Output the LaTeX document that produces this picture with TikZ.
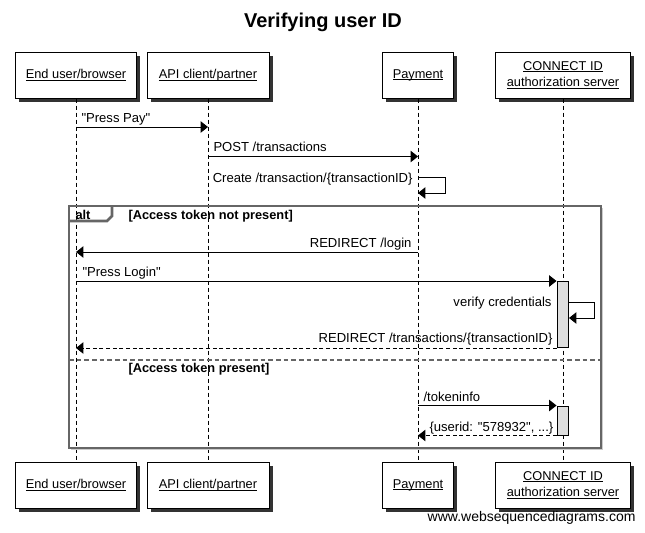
\documentclass[tikz,border=0pt]{standalone}
\usepackage{fontspec}
\setmainfont{Liberation Sans}
\usetikzlibrary{arrows.meta}
\tikzset{every picture/.style={line width=0.75pt}}
\newcommand{\wsdul}[1]{\sbox0{#1}\rlap{\rule[-1.7pt]{\wd0}{0.75pt}}\usebox0}
\newcommand{\dq}{\textquotedbl}
\tikzset{
  actor/.style={draw, fill=white, minimum width=#1*0.75pt, minimum height=34.5pt, inner sep=1pt, align=center,
    font=\fontsize{9.6}{12.5}\selectfont},
  boxshadow/.style={fill=black!80},
  lifeline/.style={dash pattern=on 3pt off 2.25pt},
  msg/.style={-{Triangle[length=5.5pt,width=8.5pt]}},
  reply/.style={msg, dash pattern=on 3pt off 2pt},
  lbl/.style={inner sep=0pt, font=\fontsize{9.8}{12}\selectfont},
  guard/.style={lbl, font=\fontsize{9.6}{12}\selectfont\bfseries},
  actbox/.style={draw, fill=black!13, minimum width=8.6pt, minimum height=#1*0.75pt, inner sep=0pt},
  altframe/.style={draw=black!60, line width=2pt},
}

\begin{document}
\begin{tikzpicture}[x=0.75pt,y=0.75pt,yscale=-1,xscale=1]
\useasboundingbox (0,0) rectangle (645,532);

% Title
\node[font=\fontsize{15}{18}\selectfont\bfseries] (title) at (323,22) {Verifying user ID};

%Shape: box shadows
\foreach \cx/\cy/\bw in {76/75/121.5, 208/75/122, 418/75/70.5, 563/75/134.5,
                        76/485/121.5, 208/485/122, 418/485/70.5, 563/485/134.5}
  \fill[boxshadow] (\cx-\bw/2+3.5,\cy-23+3.5) rectangle (\cx+\bw/2+3.5,\cy+23+3.5);

%Shape: participants (top)
\node[actor=121.5] (usrT) at (76,75) {\wsdul{End user/browser}};
\node[actor=122] (apiT) at (208,75) {\wsdul{API client/partner}};
\node[actor=70.5] (payT) at (418,75) {\wsdul{Payment}};
\node[actor=134.5] (cidT) at (563,75) {\wsdul{CONNECT ID}\\\wsdul{authorization server}};
%Shape: participants (bottom)
\node[actor=121.5] (usrB) at (76,485) {\wsdul{End user/browser}};
\node[actor=122] (apiB) at (208,485) {\wsdul{API client/partner}};
\node[actor=70.5] (payB) at (418,485) {\wsdul{Payment}};
\node[actor=134.5] (cidB) at (563,485) {\wsdul{CONNECT ID}\\\wsdul{authorization server}};

%Straight Lines: lifelines
\draw[lifeline] (usrT) -- (usrB);
\draw[lifeline] (apiT) -- (apiB);
\draw[lifeline] (payT) -- (payB);
\draw[lifeline] (cidT) -- (cidB);

%Shape: alt frame
\draw[black!20, line width=1pt] (602.5,208) -- (602.5,449.5) -- (71,449.5);
\draw[altframe] (69,206) rectangle (601,448);
\draw[altframe] (69,221) -- (107,221) -- (112,216) -- (112,206);
\draw[altframe, line width=1.5pt, dash pattern=on 3.5pt off 2.25pt] (69,360) -- (601,360);

%Shape: activations
\node[actbox=66] (act1) at (562.75,314.5) {};
\node[actbox=29] (act2) at (562.75,420.5) {};

%Straight Lines: messages
\draw[msg] (usrT |- 0,127) -- (apiT |- 0,127);
\draw[msg] (apiT |- 0,156.5) -- (payT |- 0,156.5);
\draw[msg] (payT |- 0,177.5) -| (445,193) -- (payT |- 0,193);
\draw[msg] (payT |- 0,252) -- (usrT |- 0,252);
\draw[msg] (usrT |- act1.north west) -- (act1.north west);
\draw[msg] (act1.east |- 0,302) -| (594,318) -- (act1.east |- 0,318);
\draw[reply] (act1.south west) -- (usrT |- act1.south west);
\draw[msg] (payT |- act2.north west) -- (act2.north west);
\draw[reply] (act2.south west) -- (payT |- act2.south west);

% Text Node
\node[lbl, anchor=base west] (lPressPay) at (81,122) {\dq Press Pay\dq};
\node[lbl, anchor=base west] (lPost) at (213,151.5) {POST /transactions};
\node[lbl, anchor=base east] (lCreate) at (413,182) {Create /transaction/\{transactionID\}};
\node[guard, anchor=base west] (lAlt) at (75,219) {alt};
\node[guard, anchor=base west] (lNotPresent) at (128,219) {[Access token not present]};
\node[lbl, anchor=base east] (lLogin) at (412,247) {REDIRECT /login};
\node[lbl, anchor=base west] (lPressLogin) at (82,276.5) {\dq Press Login\dq};
\node[lbl, anchor=base east] (lVerify) at (552,306) {verify credentials};
\node[lbl, anchor=base east] (lRedirTx) at (553,342) {REDIRECT /transactions/\{transactionID\}};
\node[guard, anchor=base west] (lPresent) at (128,372) {[Access token present]};
\node[lbl, anchor=base west] (lToken) at (423,401) {/tokeninfo};
\node[lbl, anchor=base west] (lUserid) at (429,431) {\{userid: \dq 578932\dq, ...\}};
\node[font=\fontsize{10.5}{12}\selectfont, inner sep=0pt, anchor=base east] (wsd) at (636,521) {www.websequencediagrams.com};

\end{tikzpicture}
\end{document}
